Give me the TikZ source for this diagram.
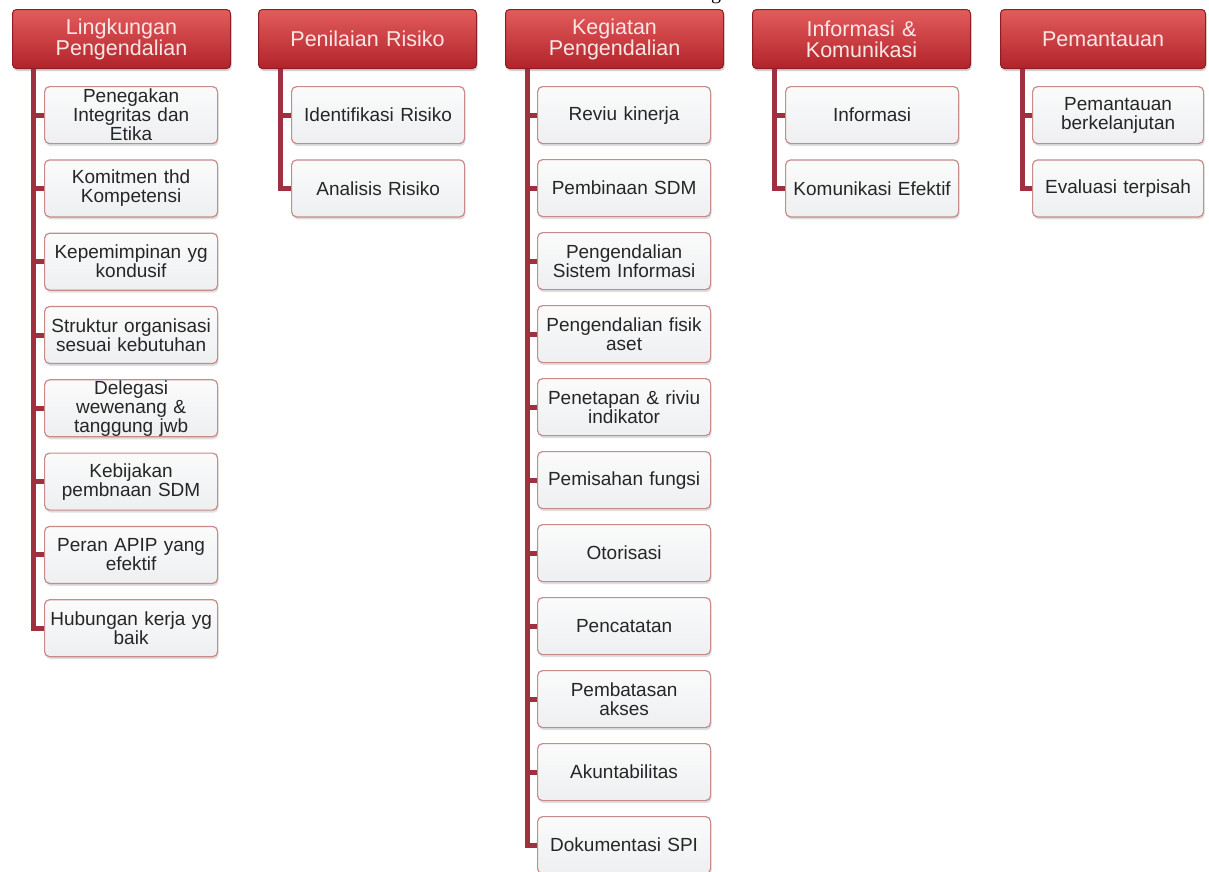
\documentclass[tikz,border=0pt]{standalone}
\usepackage{fontspec}
\setmainfont{Liberation Sans}
\newfontfamily\seriffont{Liberation Serif}
\usetikzlibrary{shadows}
\definecolor{hdtop}{HTML}{E35C5C}
\definecolor{hdbot}{HTML}{B0232A}
\definecolor{hdline}{HTML}{8E1C22}
\definecolor{connc}{HTML}{9E3040}
\definecolor{chline}{HTML}{C98A8A}
\definecolor{chtop}{HTML}{FBFBFB}
\definecolor{chbot}{HTML}{EDEFF1}
\definecolor{hdtext}{HTML}{FBE6E6}
\tikzset{
  headbox/.style={draw=hdline, line width=1pt, rounded corners=4pt,
    top color=hdtop, bottom color=hdbot,
    minimum width=218pt, minimum height=59pt, text width=210pt, align=center,
    font=\fontsize{21.5}{21}\selectfont, text=hdtext, inner sep=0pt, anchor=north west,
    drop shadow={opacity=0.35, shadow xshift=1pt, shadow yshift=-2.5pt}},
  subbox/.style={draw=chline, line width=1.2pt, rounded corners=5pt,
    top color=chtop, bottom color=chbot,
    minimum width=173pt, minimum height=57pt, text width=170pt, align=center,
    font=\fontsize{19}{19}\selectfont, text=black!85, inner sep=0pt, anchor=north west,
    drop shadow={opacity=0.25, shadow xshift=1pt, shadow yshift=-2.5pt}},
  connline/.style={draw=connc, line width=5pt, line join=miter}
}
\begin{document}
\begin{tikzpicture}[x=1pt,y=-1pt]
\useasboundingbox[fill=white] (0,0) rectangle (1209,871);
% partial title glyph cut off at top
\node[font=\seriffont\fontsize{20}{20}\selectfont, anchor=base, inner sep=0pt] (ttl) at (716,-0.5) {g};

% column 1
\node[headbox] (h1) at (12,9) {Lingkungan\\Pengendalian};
\foreach \t [count=\k] in {{Penegakan\\Integritas dan\\Etika},{Komitmen thd\\Kompetensi},{Kepemimpinan yg\\kondusif},{Struktur organisasi\\sesuai kebutuhan},{Delegasi\\wewenang \&\\tanggung jwb},{Kebijakan\\pembnaan SDM},{Peran APIP yang\\efektif},{Hubungan kerja yg\\baik}}
  \node[subbox] (a\k) at (44,{86+73.3*(\k-1)}) {\t};
\foreach \k in {1,...,8} \draw[connline] ([xshift=21pt]h1.south west) |- (a\k.west);

% column 2
\node[headbox] (h2) at (258,9) {Penilaian Risiko};
\foreach \t [count=\k] in {{Identifikasi Risiko},{Analisis Risiko}}
  \node[subbox] (b\k) at (291,{86+73.3*(\k-1)}) {\t};
\foreach \k in {1,2} \draw[connline] ([xshift=22pt]h2.south west) |- (b\k.west);

% column 3
\node[headbox] (h3) at (505,9) {Kegiatan\\Pengendalian};
\foreach \t [count=\k] in {{Reviu kinerja},{Pembinaan SDM},{Pengendalian\\Sistem Informasi},{Pengendalian fisik\\aset},{Penetapan \& riviu\\indikator},{Pemisahan fungsi},{Otorisasi},{Pencatatan},{Pembatasan\\akses},{Akuntabilitas},{Dokumentasi SPI}}
  \node[subbox] (c\k) at (537,{86+73*(\k-1)}) {\t};
\foreach \k in {1,...,11} \draw[connline] ([xshift=22pt]h3.south west) |- (c\k.west);

% column 4
\node[headbox] (h4) at (752,9) {Informasi \&\\Komunikasi};
\foreach \t [count=\k] in {{Informasi},{Komunikasi Efektif}}
  \node[subbox] (d\k) at (785,{86+73.3*(\k-1)}) {\t};
\foreach \k in {1,2} \draw[connline] ([xshift=22pt]h4.south west) |- (d\k.west);

% column 5
\node[headbox, minimum width=205pt, text width=200pt] (h5) at (1000,9) {Pemantauan};
\foreach \t [count=\k] in {{Pemantauan\\berkelanjutan},{Evaluasi terpisah}}
  \node[subbox, minimum width=171pt, text width=168pt] (e\k) at (1032,{86+73.3*(\k-1)}) {\t};
\foreach \k in {1,2} \draw[connline] ([xshift=22pt]h5.south west) |- (e\k.west);
\end{tikzpicture}
\end{document}
